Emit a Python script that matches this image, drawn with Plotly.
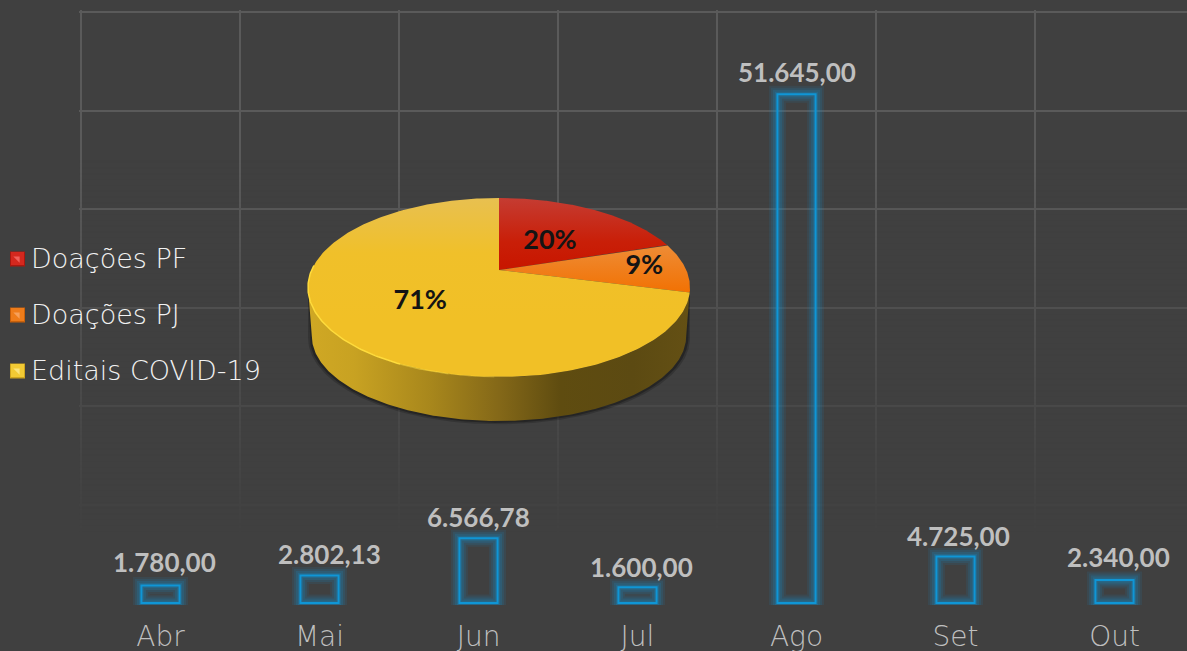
import numpy as np
import plotly.graph_objects as go

# ---- data ----
months = ["Abr", "Mai", "Jun", "Jul", "Ago", "Set", "Out"]
values = [1780.00, 2802.13, 6566.78, 1600.00, 51645.00, 4725.00, 2340.00]
value_labels = ["1.780,00", "2.802,13", "6.566,78", "1.600,00", "51.645,00", "4.725,00", "2.340,00"]
y_ticks = [0, 10000, 20000, 30000, 40000, 50000, 60000]

pie_names = ["Doações PF", "Doações PJ", "Editais COVID-19"]
pie_shares = [20, 9, 71]
pie_labels = ["20%", "9%", "71%"]

# ---- style ----
W, H = 1187, 651
BG = "#404040"
GRID = "#5a5a5a"
FONT = "Lato"
THIN = "DejaVu Sans"
BAR = "#0f96d6"
PLOT_L, PLOT_T, PLOT_B = 79, 10, 605
CAT_W = 159.0
PX_PER_UNIT = 98.5 / 10000
LABEL_XSHIFT = [4, 10, 0, 4, 0, 3, 4]
LABEL_YSHIFT = [23, 21, 21, 20, 22, 20, 23]

fig = go.Figure()
xs = list(range(len(months)))

# fade of the grid toward the bottom
fy = np.linspace(-203, 60300, 60)
fade = np.clip((45000 - fy) / 38000, 0, 1)
fig.add_trace(go.Heatmap(
    x=[-0.6, 7], y=fy, z=np.column_stack([fade, fade]), zmin=0, zmax=1, zsmooth="best",
    colorscale=[[0, "rgba(64,64,64,0)"], [1, "rgba(64,64,64,1)"]],
    showscale=False, hoverinfo="skip"))

# glow + outline of bars
for lw, col in [(17, "rgba(15,150,214,0.10)"), (13, "rgba(15,150,214,0.13)"),
                (9, "rgba(15,150,214,0.17)"), (5, "rgba(15,150,214,0.20)"), (2, BAR)]:
    fig.add_trace(go.Bar(x=xs, y=values, width=0.24, marker=dict(color="rgba(0,0,0,0)",
                  line=dict(color=col, width=lw)), showlegend=False, hoverinfo="skip"))

# ---- pseudo 3-D pie, projected with perspective onto hidden pixel axes ----
CX, APEX_Y, EY = 499.0, 270.0, 287.5
RY = 89.5
K = (EY - APEX_Y) / RY
RX = 191.0 * np.sqrt(1 - K * K)


def project(a, r=1.0, sx=1.0, sy=1.0, dy=0.0):
    u, v = r * np.sin(a), r * np.cos(a)
    w = 1 + K * v
    X = RX * u / w
    Y = (RY * v + (EY - APEX_Y)) / w
    return CX + X * sx, H - (EY - Y * sy + dy)


def arc(a0, a1, n=220, **kw):
    return project(np.linspace(a0, a1, n), **kw)


a_r = np.arccos(-K)
a_l = 2 * np.pi - a_r

# soft shadow
for sx, sy, dy, alpha in [(1.0, 0.965, 50.5, 0.18), (0.992, 0.96, 49.5, 0.28)]:
    tx, ty = arc(a_r, a_l)
    bx, by = arc(a_l, a_r, sx=sx, sy=sy, dy=dy)
    fig.add_trace(go.Scatter(x=np.r_[tx, bx], y=np.r_[ty, by], xaxis="x2", yaxis="y2", mode="lines",
                             line=dict(width=0), fill="toself", fillcolor=f"rgba(0,0,0,{alpha})",
                             hoverinfo="skip", showlegend=False))

# side wall
tx, ty = arc(a_r, a_l)
bx, by = arc(a_l, a_r, sx=0.98, sy=0.95, dy=48.5)
fig.add_trace(go.Scatter(
    x=np.r_[tx, bx], y=np.r_[ty, by], xaxis="x2", yaxis="y2", mode="lines", line=dict(width=0),
    fill="toself",
    fillgradient=dict(type="horizontal", start=308, stop=690, colorscale=[
        [0, "#d0a824"], [0.12, "#c8a222"], [0.32, "#a8871c"], [0.5, "#846818"],
        [0.66, "#5f4c10"], [0.85, "#5c4a12"], [1, "#645014"]]),
    hoverinfo="skip", showlegend=False))

# top face slices
slice_scales = [
    [[0, "#c81700"], [0.35, "#c91f08"], [1, "#c53c32"]],
    [[0, "#f27000"], [1, "#ee8c36"]],
    [[0, "#f1c026"], [0.55, "#f0c02a"], [1, "#e8c050"]],
]
slice_spans = [(265, 198), (295, 245), (320, 198)]
edges = np.r_[0, np.cumsum(pie_shares)] / np.sum(pie_shares) * 2 * np.pi
for i, name in enumerate(pie_names):
    ax, ay = arc(edges[i], edges[i + 1])
    x0, y0 = project(np.array([0.0]), r=0.0)
    fig.add_trace(go.Scatter(
        x=np.r_[x0, ax, x0], y=np.r_[y0, ay, y0], xaxis="x2", yaxis="y2", mode="lines",
        line=dict(width=0), fill="toself", name=name,
        fillgradient=dict(type="vertical", start=H - slice_spans[i][0], stop=H - slice_spans[i][1],
                          colorscale=slice_scales[i]),
        hoverinfo="skip", showlegend=False))

# bright rim on the near-left edge, fading out toward the front
for a0, a1, col, lw in [(a_l + 0.25, np.pi + 0.45, "#ffdc3c", 1.5),
                        (np.pi + 0.45, np.pi + 0.22, "rgba(255,220,60,0.6)", 1.3),
                        (np.pi + 0.22, np.pi + 0.02, "rgba(255,220,60,0.3)", 1.1)]:
    rx_, ry_ = arc(a0, a1, n=80)
    fig.add_trace(go.Scatter(x=rx_, y=ry_, xaxis="x2", yaxis="y2", mode="lines",
                             line=dict(color=col, width=lw), hoverinfo="skip", showlegend=False))

# percentage labels
label_r = np.array([0.5, 0.78, 0.5])
label_dy = np.array([-5, 1, -4])
mids = (edges[:-1] + edges[1:]) / 2
lx, ly = project(mids, r=label_r)
fig.add_trace(go.Scatter(x=lx, y=ly + label_dy, xaxis="x2", yaxis="y2", mode="text", text=pie_labels,
                         textposition="middle center",
                         textfont=dict(family=FONT, size=27, color="#141414", weight=700),
                         hoverinfo="skip", showlegend=False))

# legend keys + labels
key_x = [17.5] * 3
key_y = [H - 259, H - 315, H - 371]
key_base = ["#a81810", "#c8600a", "#cfa51e"]
key_mid = ["#d4281e", "#ee7c1a", "#f2ca34"]
key_top = ["#f0605a", "#f6a05a", "#fae47c"]
fig.add_trace(go.Scatter(x=key_x, y=key_y, xaxis="x2", yaxis="y2", mode="markers",
                         marker=dict(symbol="square", size=15, color=key_base,
                                     line=dict(width=0)), hoverinfo="skip", showlegend=False))
fig.add_trace(go.Scatter(x=key_x, y=[k + 0.5 for k in key_y], xaxis="x2", yaxis="y2", mode="markers",
                         marker=dict(symbol="square", size=13, color=key_mid,
                                     line=dict(width=0)), hoverinfo="skip", showlegend=False))
fig.add_trace(go.Scatter(x=key_x, y=[k + 0.5 for k in key_y], xaxis="x2", yaxis="y2", mode="markers",
                         marker=dict(symbol="triangle-ne", size=7, color=key_top,
                                     line=dict(width=0)), hoverinfo="skip", showlegend=False))

annotations = []
for n, ky in zip(pie_names, key_y):
    annotations.append(dict(x=29, y=ky + 1, xref="x2", yref="y2", text=n, showarrow=False,
                            xanchor="left", yanchor="middle",
                            font=dict(family=THIN, size=27, color="#f2f2f2", weight=200)))
for x, v, t, dx, dy in zip(xs, values, value_labels, LABEL_XSHIFT, LABEL_YSHIFT):
    annotations.append(dict(x=x, y=v, xref="x", yref="y", text=t, showarrow=False,
                            xshift=dx, yshift=dy, xanchor="center", yanchor="middle",
                            font=dict(family=FONT, size=26, color="#bfbfbf", weight=700)))

fig.update_layout(
    width=W, height=H, autosize=False, margin=dict(l=0, r=0, t=0, b=0, autoexpand=False),
    paper_bgcolor=BG, plot_bgcolor="rgba(0,0,0,0)", barmode="overlay", showlegend=False,
    annotations=annotations,
    xaxis=dict(domain=[PLOT_L / W, 1], range=[-0.5 - 2 / CAT_W, -0.5 + (W - 81) / CAT_W],
               tickmode="array", tickvals=xs, ticktext=months, showgrid=False, zeroline=False,
               ticks="", ticklabelstandoff=12, showline=False, automargin=False,
               tickfont=dict(family=THIN, size=28, color="#bfbfbf", weight=200),
               minor=dict(tickmode="array", tickvals=[i - 0.5 for i in range(8)], showgrid=True,
                          gridcolor=GRID, gridwidth=2, ticks="")),
    yaxis=dict(domain=[(H - PLOT_B) / H, (H - PLOT_T) / H], range=[-203, 60000 + 2 / PX_PER_UNIT],
               tickmode="array", tickvals=y_ticks, showticklabels=False, showgrid=True,
               automargin=False,
               gridcolor=GRID, gridwidth=2, zeroline=False, ticks="", showline=False),
    xaxis2=dict(domain=[0, 1], range=[0, W], visible=False, anchor="y2", fixedrange=True,
                automargin=False),
    yaxis2=dict(domain=[0, 1], range=[0, H], visible=False, anchor="x2", fixedrange=True,
                automargin=False),
)

fig.write_html("out.html", config={"displayModeBar": False},
               post_script="document.body.style.margin='0';document.body.style.background='#404040';document.documentElement.style.overflow='hidden';")
